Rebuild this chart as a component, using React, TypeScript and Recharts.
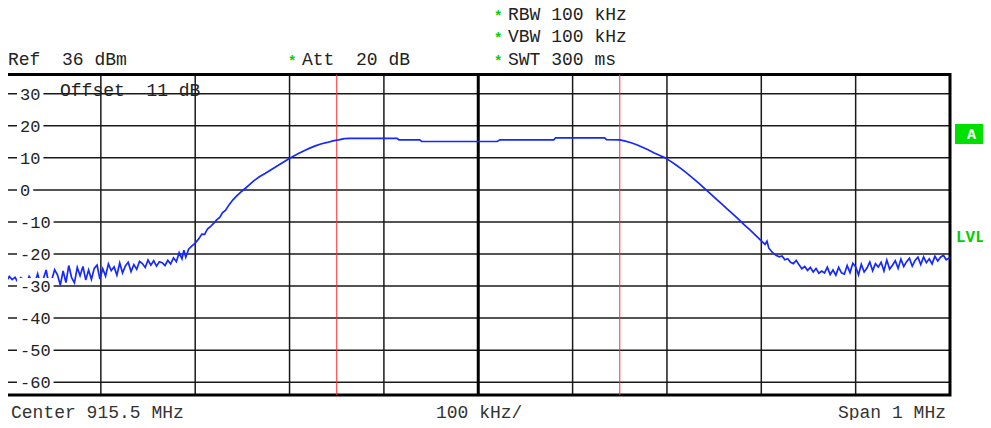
import React from "react";
import {
  LineChart,
  Line,
  XAxis,
  YAxis,
  CartesianGrid,
  ReferenceLine,
  ReferenceArea,
} from "recharts";

// Frequency offset from 915.0 MHz, in kHz (span 1 MHz, center 915.5 MHz)
const freqKHz: number[] = [
  0, 3, 6, 9, 12, 15, 18, 21, 24, 27, 30, 33, 36, 39, 42, 45, 48, 51, 54, 57,
  60, 63, 66, 69, 72, 75, 78, 81, 84, 87, 90, 93, 96, 99, 102, 105, 108, 111,
  114, 117, 120, 123, 126, 129, 132, 135, 138, 141, 144, 147, 150, 153, 156,
  159, 162, 165, 168, 171, 174, 177, 180, 183,
  186, 188, 190, 193, 196, 200, 204, 207, 210, 213, 216, 220, 223, 226, 229,
  232, 236, 240, 244, 248, 252, 257, 262, 268, 274, 280, 286, 292, 298, 304,
  310, 316, 322, 328, 334, 340, 346, 352, 358, 364, 414, 416, 438, 440, 520,
  523, 580, 582, 634, 636, 650, 656, 662, 668, 674, 680, 686, 692, 698, 704,
  710, 716, 722, 728, 734, 740, 746, 752, 758, 764, 770, 776, 782, 788, 794,
  800, 804, 806, 808, 812, 816, 819, 822, 825, 828, 831, 834, 837, 840, 843,
  846, 849, 852, 855, 858, 861, 864, 867, 870, 873, 876, 879, 882, 885, 888,
  891, 894, 897, 900, 903, 906, 909, 912, 915, 918, 921, 924, 927, 930, 933,
  936, 939, 942, 945, 948, 951, 954, 957, 960, 963, 966, 969, 972, 975, 978,
  981, 984, 987, 990, 993, 996, 1000,
];

// Trace level in dBm
const levelDbm: number[] = [
  -28.5, -27.0, -28.0, -27.3, -28.8, -27.4, -27.9, -29.2, -27.0, -28.4, -29.1,
  -26.2, -29.5, -27.8, -25.0, -29.6, -28.0, -24.9, -26.5, -29.7, -25.3, -28.9,
  -23.6, -27.4, -29.0, -24.2, -26.8, -23.9, -28.1, -25.0, -27.9, -24.5, -23.5,
  -27.8, -24.6, -26.9, -23.1, -25.2, -24.0, -26.6, -22.8, -25.9, -23.7, -22.6,
  -25.5, -23.3, -24.8, -22.3, -23.0, -24.2, -21.9, -23.5, -22.1, -23.8, -22.4,
  -22.7, -23.6, -22.0, -23.1, -21.2, -22.4, -19.6,
  -21.5, -18.8, -21.0, -18.5, -17.6, -16.6, -15.2, -13.8, -13.9, -12.2, -11.5,
  -10.3, -9.3, -8.6, -7.1, -6.4, -4.6, -3.1, -1.9, -0.8, 0.2, 1.5, 2.8, 4.1,
  5.1, 6.2, 7.3, 8.4, 9.5, 10.5, 11.4, 12.3, 13.1, 13.8, 14.4, 14.8, 15.3,
  15.6, 16.0, 16.1, 16.1, 15.6, 15.6, 15.1, 15.1, 15.6, 15.6, 16.2, 16.2,
  15.7, 15.6, 15.2, 14.7, 14.1, 13.3, 12.5, 11.6, 10.8, 10.0, 8.9, 7.7, 6.4,
  5.0, 3.5, 2.0, 0.4, -1.2, -2.8, -4.4, -6.0, -7.6, -9.2, -10.9, -12.5, -14.2,
  -15.9, -17.0, -16.0, -18.2, -19.6, -20.5, -20.9, -20.6, -21.8, -21.5, -22.6,
  -23.0, -22.0, -23.4, -24.6, -23.9, -25.1, -24.2, -25.6, -24.5, -26.0, -25.3,
  -25.9, -24.1, -26.4, -25.0, -26.6, -24.2, -25.9, -26.3, -23.6, -25.8, -22.9,
  -24.0, -26.5, -23.2, -25.6, -24.4, -22.5, -25.2, -23.0, -24.1, -22.6, -25.3,
  -21.9, -24.7, -23.5, -22.1, -24.5, -21.6, -23.9, -22.4, -21.3, -23.8, -22.0,
  -21.0, -23.3, -20.9, -22.7, -21.5, -23.1, -20.7, -22.2, -21.0, -20.4, -21.8,
  -21.1,
];

const xTicks: number[] = [0, 100, 200, 300, 400, 500, 600, 700, 800, 900, 1000];
const yTicks: number[] = [30, 20, 10, 0, -10, -20, -30, -40, -50, -60];
const yDomain: number[] = [-64, 36];
const markerLinesKHz: number[] = [350, 650];

const headerTexts = {
  ref: "Ref  36 dBm",
  att: "Att  20 dB",
  rbw: "RBW 100 kHz",
  vbw: "VBW 100 kHz",
  swt: "SWT 300 ms",
  offset: "Offset  11 dB",
  center: "Center 915.5 MHz",
  div: "100 kHz/",
  span: "Span 1 MHz",
};

const MONO = "'Liberation Mono', 'Courier New', monospace";
const PRE: React.CSSProperties = { whiteSpace: "pre" };

const data = freqKHz.map((f, i) => ({ f, v: levelDbm[i] }));

const YTick = (props: any) => {
  const { y, payload } = props;
  const label = String(payload.value);
  const w = label.length * 10.2 + 6;
  return (
    <g>
      <rect x={17} y={y - 8} width={w} height={16} fill="#fff" />
      <text
        x={20}
        y={y}
        dy="0.36em"
        fontFamily={MONO}
        fontSize={17}
        fill="#222"
        textAnchor="start"
      >
        {label}
      </text>
    </g>
  );
};

const Star = ({ x, y }: { x: number; y: number }) => (
  <text x={x} y={y} fontFamily={MONO} fontSize={14} fontWeight="bold" fill="#00d000">
    *
  </text>
);

export default function App() {
  return (
    <div style={{ position: "relative", width: 991, height: 428, margin: -8, background: "#fff" }}>
      <LineChart
        width={991}
        height={428}
        data={data}
        margin={{ top: 74.5, right: 41, bottom: 33, left: 6.5 }}
      >
        <CartesianGrid stroke="#1a1a1a" strokeWidth={1.5} />
        <XAxis
          dataKey="f"
          type="number"
          domain={[0, 1000]}
          ticks={xTicks}
          hide
        />
        <YAxis
          type="number"
          domain={yDomain}
          ticks={yTicks}
          width={60}
          mirror
          axisLine={false}
          tickLine={false}
          interval={0}
          tick={YTick}
        />
        <ReferenceLine x={500} stroke="#000" strokeWidth={3} />
        {markerLinesKHz.map((m) => (
          <ReferenceLine key={m} x={m} stroke="#ff3030" strokeWidth={1} />
        ))}
        <Line
          type="linear"
          dataKey="v"
          stroke="#1428ff"
          strokeWidth={1.7}
          dot={false}
          isAnimationActive={false}
        />
        <ReferenceArea
          x1={0}
          x2={1000}
          y1={yDomain[0]}
          y2={yDomain[1]}
          fill="none"
          fillOpacity={0}
          stroke="#000"
          strokeWidth={3}
        />
      </LineChart>
      <svg
        width={991}
        height={428}
        style={{ position: "absolute", left: 0, top: 0, pointerEvents: "none" }}
      >
        <g fontFamily={MONO} fontSize={18} fill="#222">
          <text x={8} y={65} style={PRE}>{headerTexts.ref}</text>
          <text x={302} y={65} style={PRE}>{headerTexts.att}</text>
          <text x={508} y={19.5} style={PRE}>{headerTexts.rbw}</text>
          <text x={508} y={42} style={PRE}>{headerTexts.vbw}</text>
          <text x={508} y={65} style={PRE}>{headerTexts.swt}</text>
          <text x={60} y={96} style={PRE}>{headerTexts.offset}</text>
          <text x={11} y={418} fill="#333" style={PRE}>{headerTexts.center}</text>
          <text x={436} y={418} fill="#333" style={PRE}>{headerTexts.div}</text>
          <text x={946} y={418} textAnchor="end" fill="#333" style={PRE}>{headerTexts.span}</text>
        </g>
        <Star x={288} y={66} />
        <Star x={494} y={20.5} />
        <Star x={494} y={43} />
        <Star x={494} y={66} />
        <rect x={955} y={124} width={33} height={20} fill="#00e000" />
        <text x={971.5} y={139} textAnchor="middle" fontFamily={MONO} fontSize={15} fontWeight="bold" fill="#fff">
          A
        </text>
        <text x={956} y={242} fontFamily={MONO} fontSize={16} fontWeight="bold" fill="#00d000">
          LVL
        </text>
      </svg>
    </div>
  );
}
